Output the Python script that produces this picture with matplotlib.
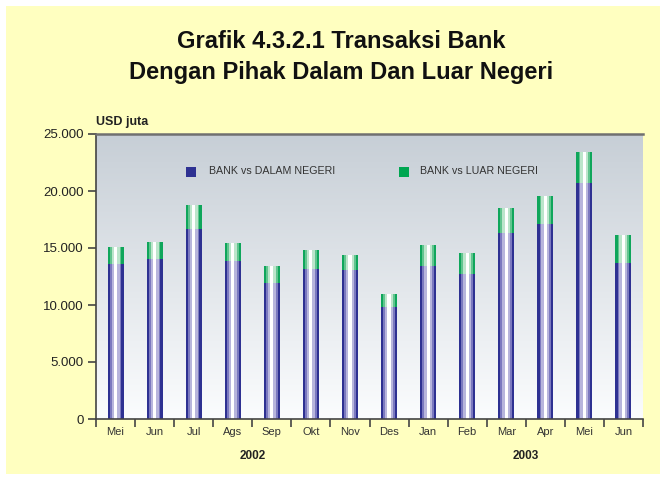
import numpy as np
import matplotlib.pyplot as plt
from matplotlib.patches import Rectangle

months = ['Mei', 'Jun', 'Jul', 'Ags', 'Sep', 'Okt', 'Nov', 'Des',
          'Jan', 'Feb', 'Mar', 'Apr', 'Mei', 'Jun']
dalam = [13600, 14000, 16700, 13900, 11900, 13200, 13100, 9800,
         13400, 12700, 16300, 17100, 20700, 13700]
total = [15100, 15500, 18800, 15400, 13400, 14800, 14400, 11000,
         15300, 14600, 18500, 19600, 23400, 16100]
luar = [t - d for t, d in zip(total, dalam)]
years = ['2002', '2003']
yticks = [0, 5000, 10000, 15000, 20000, 25000]
ylabels = ['0', '5.000', '10.000', '15.000', '20.000', '25.000']

plt.rcParams['font.family'] = ['Liberation Sans', 'DejaVu Sans']

fig = plt.figure(figsize=(6.64, 4.78), dpi=100)
fig.patch.set_facecolor('white')
fig.patches.append(Rectangle((6 / 664, 4 / 478), 654 / 664, 468 / 478,
                             transform=fig.transFigure, facecolor='#FFFFC0',
                             edgecolor='none', zorder=-5))

ax = fig.add_axes([96 / 664, 1 - 419 / 478, 547 / 664, 285 / 478])
ax.set_facecolor('none')
ax.set_zorder(1)

# background gradient
grad = np.linspace(0, 1, 256).reshape(-1, 1)
c_top = np.array([0.78, 0.81, 0.84])
c_bot = np.array([0.985, 0.99, 0.995])
img = c_top[None, None, :] * (1 - grad[:, :, None]) + c_bot[None, None, :] * grad[:, :, None]
ax.imshow(img, extent=[0, 1, 0, 1], transform=ax.transAxes, aspect='auto', zorder=0)

x = np.arange(len(months))
w = 0.41
blue = [('#2E3192', 1.0), ('#7B79BF', 0.72), ('#B7B5DC', 0.5), ('#FFFFFF', 0.2)]
green = [('#0FA65B', 1.0), ('#62C48F', 0.72), ('#BCE5CB', 0.5), ('#FFFFFF', 0.2)]
for col, f in blue:
    ax.bar(x, dalam, width=w * f, color=col, zorder=2, linewidth=0)
for col, f in green:
    ax.bar(x, luar, bottom=dalam, width=w * f, color=col, zorder=2, linewidth=0)

ax.set_xlim(-0.5, len(months) - 0.5)
ax.set_ylim(0, 25000)
ax.set_yticks(yticks)
ax.set_yticklabels(ylabels, fontsize=9.5, color='#222222')
ax.set_xticks(np.arange(len(months) + 1) - 0.5)
ax.set_xticklabels([])
ax.set_xticks(x, minor=True)
ax.set_xticklabels(months, minor=True, fontsize=8, color='#333333')
ax.tick_params(axis='y', length=6, width=1.2, color='#444444', pad=3)
ax.tick_params(axis='x', which='major', length=6, width=1.2, color='#444444')
ax.tick_params(axis='x', which='minor', length=0, pad=6)

for s in ['left', 'bottom']:
    ax.spines[s].set_color('#444444')
    ax.spines[s].set_linewidth(1.2)
ax.spines['top'].set_color('#707070')
ax.spines['top'].set_linewidth(1.8)
ax.spines['right'].set_visible(False)

ax.text(3.5, -0.13, years[0], transform=ax.get_xaxis_transform(),
        ha='center', va='center', fontsize=8.5, fontweight='bold', color='#222222')
ax.text(10.5, -0.13, years[1], transform=ax.get_xaxis_transform(),
        ha='center', va='center', fontsize=8.5, fontweight='bold', color='#222222')

fig.text(96 / 664, 1 - 122 / 478, 'USD juta', ha='left', va='center',
         fontsize=9, fontweight='bold', color='#222222')

# legend
ax.add_patch(Rectangle((186 / 664, 1 - 177 / 478), 10 / 664, 10 / 478,
                       transform=fig.transFigure, facecolor='#2E3192', edgecolor='none', zorder=3))
fig.text(209 / 664, 1 - 171 / 478, 'BANK vs DALAM NEGERI', ha='left', va='center',
         fontsize=7.7, color='#333333', zorder=5)
ax.add_patch(Rectangle((399 / 664, 1 - 177 / 478), 10 / 664, 10 / 478,
                       transform=fig.transFigure, facecolor='#00A651', edgecolor='none', zorder=3))
fig.text(420 / 664, 1 - 171 / 478, 'BANK vs LUAR NEGERI', ha='left', va='center',
         fontsize=7.7, color='#333333', zorder=5)

fig.text(341 / 664, 1 - 42 / 478, 'Grafik 4.3.2.1 Transaksi Bank', ha='center', va='center',
         fontsize=17, fontweight='bold', color='#111111')
fig.text(341 / 664, 1 - 73 / 478, 'Dengan Pihak Dalam Dan Luar Negeri', ha='center', va='center',
         fontsize=17, fontweight='bold', color='#111111')

fig.savefig('out.png', dpi=100)
